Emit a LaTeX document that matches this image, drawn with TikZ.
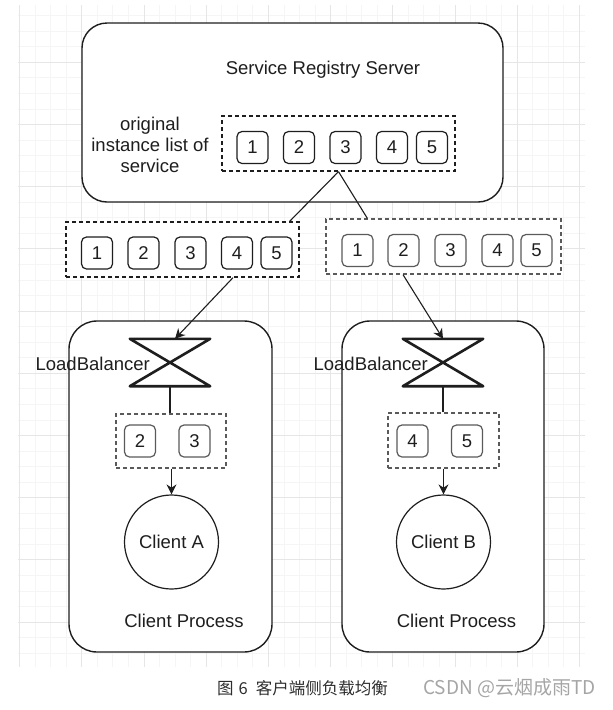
\documentclass[tikz,border=0pt]{standalone}
\usepackage{fontspec}
\setmainfont{Liberation Sans}
\newfontfamily\cjkfont{Noto Sans CJK SC}
\usetikzlibrary{arrows.meta, positioning, calc}
\definecolor{inkline}{RGB}{30, 30, 30}
\definecolor{listgray}{RGB}{90, 90, 90}
\definecolor{gridmajor}{RGB}{230, 230, 230}
\definecolor{gridminor}{RGB}{245, 245, 245}
\definecolor{captgray}{RGB}{45, 45, 45}
\definecolor{markgray}{RGB}{165, 165, 165}

\begin{document}
\begin{tikzpicture}[x=1pt, y=-1pt,
          lbl/.style={text=inkline, inner sep=0pt,
                      font=\fontsize{18.5}{21}\selectfont},
          num/.style={draw=inkline, rounded corners=5pt,
                      line width=1.2pt, minimum width=31pt,
                      minimum height=32pt, inner sep=0pt,
                      text=inkline,
                      font=\fontsize{18.5}{21}\selectfont},
          lst/.style={draw=inkline, dashed, line width=1.3pt,
                      dash pattern=on 4pt off 3pt, inner sep=0pt},
          holder/.style={draw=inkline, line width=1.4pt,
                      inner sep=0pt},
          bowtie/.style={minimum width=80pt, minimum height=47pt,
                      inner sep=0pt},
          client/.style={circle, draw=inkline, line width=1.2pt,
                      minimum size=94pt, inner sep=0pt,
                      text=inkline,
                      font=\fontsize{18.5}{21}\selectfont},
          conn/.style={draw=inkline, line width=1.1pt},
          arr/.style={conn, -{Stealth[length=10pt, width=10pt]}},
      ]
      \useasboundingbox (0,0) rectangle (613,710);
      % background grid
      \foreach \i in {0,...,36}
          \draw[gridminor, line width=0.7pt]
              (19.5+15.55*\i,5) -- (19.5+15.55*\i,667);
      \foreach \j in {1,...,42}
          \draw[gridminor, line width=0.7pt]
              (18,15.55*\j) -- (585,15.55*\j);
      \foreach \i in {0,4,...,36}
          \draw[gridmajor, line width=0.8pt]
              (19.5+15.55*\i,5) -- (19.5+15.55*\i,667);
      \foreach \j in {4,8,...,40}
          \draw[gridmajor, line width=0.8pt]
              (18,15.55*\j) -- (585,15.55*\j);

      % registry server
      \node[holder, fill=white, rounded corners=25pt,
          minimum width=421pt, minimum height=179pt] (server)
          at (292.5,112.5) {};
      \node[lbl] (servername) at (323,70) {Service Registry Server};
      \node[lbl, align=center,
          font=\fontsize{18.5}{21}\selectfont] (origtxt)
          at (150,145) {original\\instance list of\\service};
      \node[lst, minimum width=233pt, minimum height=55pt] (tlist)
          at (338.5,143.5) {};
      \foreach \n/\x in {1/252.5, 2/299, 3/345.5, 4/392, 5/432}
          \node[num] (t\n) at (\x,147.5) {\n};

      % copies of the list
      \node[lst, fill=white, minimum width=233pt,
          minimum height=55pt] (llist) at (182.5,249.5) {};
      \foreach \n/\x in {1/97, 2/143.5, 3/190.5, 4/237, 5/276.5}
          \node[num] (l\n) at (\x,253) {\n};
      \node[lst, draw=listgray, fill=white, minimum width=235pt,
          minimum height=55pt] (rlist) at (443.5,246.5) {};
      \foreach \n/\x in {1/357.5, 2/403.5, 3/450.5, 4/497.5, 5/536.5}
          \node[num, draw=listgray] (r\n) at (\x,250.5) {\n};
      \draw[conn] (tlist.south) --
          ($(llist.north east)+(-10,0)$);
      \draw[conn] (tlist.south) --
          ($(rlist.north west)+(42,0)$);

      % client processes
      \node[holder, fill=white, rounded corners=28pt,
          minimum width=203pt, minimum height=331pt] (procA)
          at (170.5,486.5) {};
      \node[holder, fill=white, rounded corners=28pt,
          minimum width=202pt, minimum height=331pt] (procB)
          at (443,486.5) {};
      \node[lbl] (procAtxt) at (184,621) {Client Process};
      \node[lbl] (procBtxt) at (456.5,621) {Client Process};

      % load balancers
      \node[bowtie] (lbA) at (170,362.5) {};
      \node[bowtie] (lbB) at (443,362.5) {};
      \foreach \b in {lbA, lbB}
          \draw[inkline, line width=2.6pt, line join=round]
              (\b.north west) -- (\b.north east) --
              (\b.south west) -- (\b.south east) -- cycle;
      \node[lbl, anchor=east] (lbAtxt) at (150,364) {LoadBalancer};
      \node[lbl, anchor=east] (lbBtxt) at (428,364) {LoadBalancer};
      \draw[arr] ($(llist.south)+(50.5,0)$) --
          ($(lbA.north)+(5,0)$);
      \draw[arr] ($(rlist.south)+(-40.5,0)$) -- (lbB.north);

      % picked instances
      \node[lst, draw=listgray, minimum width=110pt,
          minimum height=54pt] (alist) at (171,441) {};
      \node[num, draw=listgray] (a2) at (140,441) {2};
      \node[num, draw=listgray] (a3) at (194.5,441) {3};
      \node[lst, draw=listgray, minimum width=111pt,
          minimum height=55pt] (blist) at (443.5,440.5) {};
      \node[num, draw=listgray] (b4) at (412.5,441) {4};
      \node[num, draw=listgray] (b5) at (467,441) {5};
      \draw[conn] (lbA.south) -- (lbA.south |- alist.north);
      \draw[conn] (lbB.south) -- (lbB.south |- blist.north);

      % clients
      \node[client] (cA) at (171.5,542) {Client A};
      \node[client] (cB) at (443.5,542) {Client B};
      \draw[arr] (alist.south -| cA.north) -- (cA.north);
      \draw[arr] (blist.south -| cB.north) -- (cB.north);

      % caption
      \node[text=captgray, anchor=west, inner sep=0pt,
          font=\cjkfont\fontsize{16.5}{19}\selectfont]
          (caption) at (217,688)
          {图\hspace{5pt}6\hspace{8pt}客户端侧负载均衡};
      \node[text=markgray, anchor=west, inner sep=0pt,
          font=\cjkfont\fontsize{19}{21}\selectfont]
          (mark) at (423,688) {CSDN @云烟成雨TD};
      \end{tikzpicture}
\end{document}
